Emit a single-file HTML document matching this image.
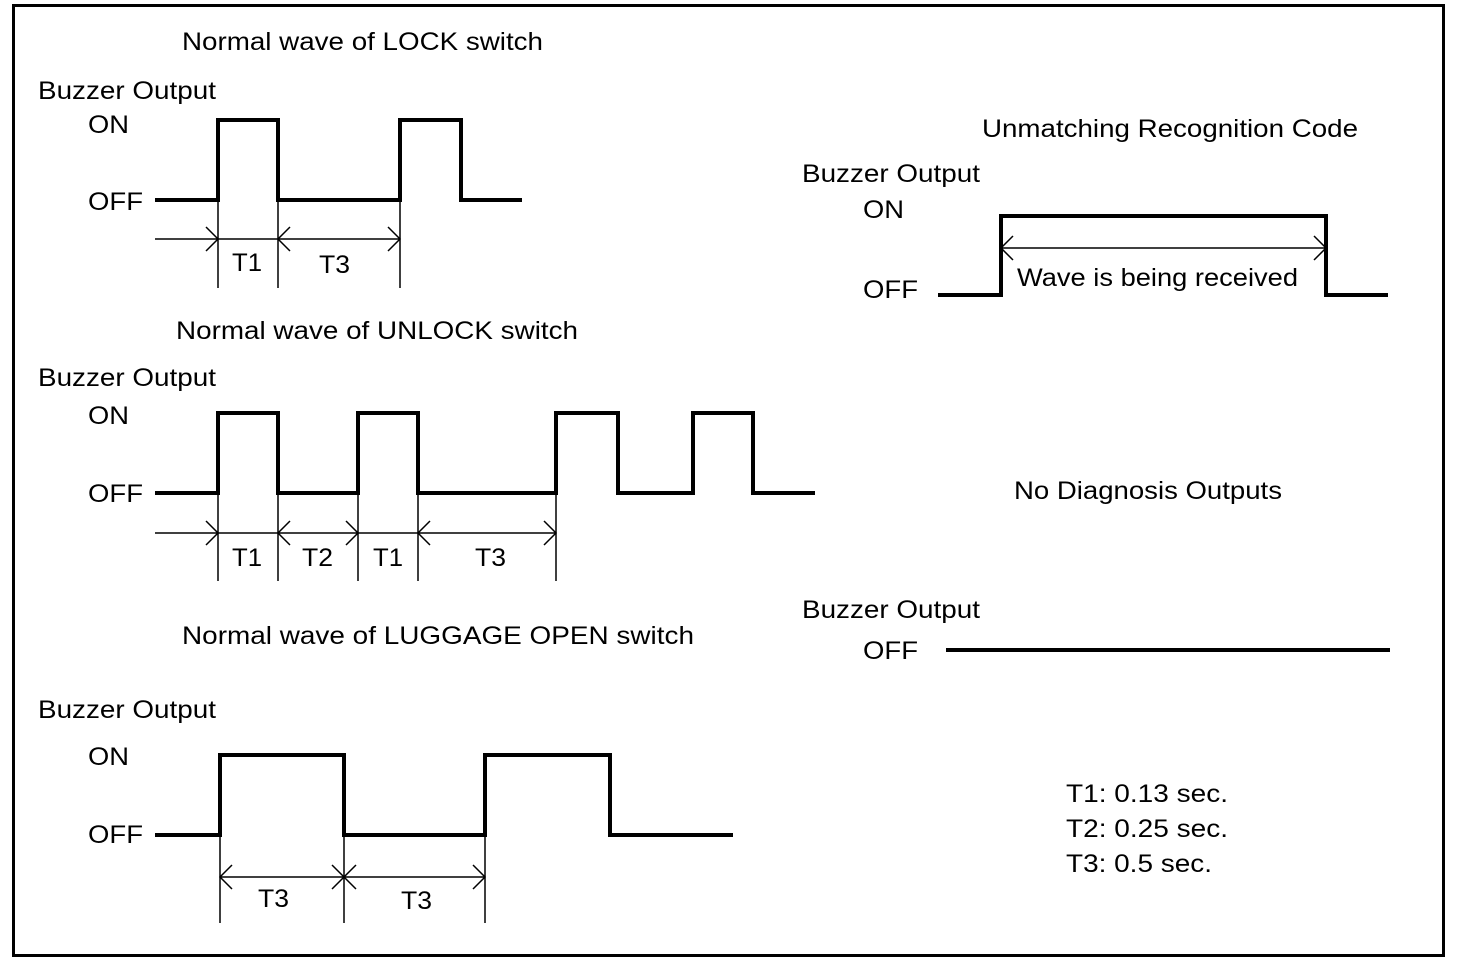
<!DOCTYPE html>
<html><head><meta charset="utf-8"><style>
html,body{margin:0;padding:0;background:#fff;}
svg{display:block;}
text{font-family:"Liberation Sans",Arial,sans-serif;font-size:25px;fill:#000;}
</style></head><body>
<svg width="1472" height="980" viewBox="0 0 1472 980" xmlns="http://www.w3.org/2000/svg">
<rect x="13.5" y="5.5" width="1430" height="950" fill="none" stroke="#000" stroke-width="3"/>
<g fill="none" stroke="#000">
<polyline stroke-width="4" points="155,200 218,200 218,120 278,120 278,200 400,200 400,120 461,120 461,200 522,200"/>
<g stroke-width="1.5">
<line x1="155" y1="239" x2="400" y2="239"/>
<line x1="218" y1="200" x2="218" y2="288"/>
<line x1="278" y1="200" x2="278" y2="288"/>
<line x1="400" y1="200" x2="400" y2="288"/>
<polyline points="206,227 218,239 206,251"/>
<polyline points="290,227 278,239 290,251"/>
<polyline points="388,227 400,239 388,251"/>
</g>
<polyline stroke-width="4" points="155,493 218,493 218,413 278,413 278,493 358,493 358,413 418,413 418,493 556,493 556,413 618,413 618,493 693,493 693,413 753,413 753,493 815,493"/>
<g stroke-width="1.5">
<line x1="155" y1="533" x2="556" y2="533"/>
<line x1="218" y1="493" x2="218" y2="581"/>
<line x1="278" y1="493" x2="278" y2="581"/>
<line x1="358" y1="493" x2="358" y2="581"/>
<line x1="418" y1="493" x2="418" y2="581"/>
<line x1="556" y1="493" x2="556" y2="581"/>
<polyline points="206,521 218,533 206,545"/>
<polyline points="290,521 278,533 290,545"/>
<polyline points="346,521 358,533 346,545"/>
<polyline points="430,521 418,533 430,545"/>
<polyline points="544,521 556,533 544,545"/>
</g>
<polyline stroke-width="4" points="155,835 220,835 220,755 344,755 344,835 485,835 485,755 610,755 610,835 733,835"/>
<g stroke-width="1.5">
<line x1="220" y1="877" x2="485" y2="877"/>
<line x1="220" y1="835" x2="220" y2="923"/>
<line x1="344" y1="835" x2="344" y2="923"/>
<line x1="485" y1="835" x2="485" y2="923"/>
<polyline points="232,865 220,877 232,889"/>
<polyline points="332,865 344,877 332,889"/>
<polyline points="356,865 344,877 356,889"/>
<polyline points="473,865 485,877 473,889"/>
</g>
<polyline stroke-width="4" points="938,295 1001,295 1001,216 1326,216 1326,295 1388,295"/>
<g stroke-width="1.5">
<line x1="1001" y1="248" x2="1326" y2="248"/>
<polyline points="1013,236 1001,248 1013,260"/>
<polyline points="1314,236 1326,248 1314,260"/>
</g>
<line stroke-width="4" x1="946" y1="650" x2="1390" y2="650"/>
</g>
<g>
<text x="182" y="50" textLength="361" lengthAdjust="spacingAndGlyphs">Normal wave of LOCK switch</text>
<text x="38" y="99" textLength="178" lengthAdjust="spacingAndGlyphs">Buzzer Output</text>
<text x="88" y="133" textLength="41" lengthAdjust="spacingAndGlyphs">ON</text>
<text x="88" y="210" textLength="55" lengthAdjust="spacingAndGlyphs">OFF</text>
<text x="232" y="271" textLength="30" lengthAdjust="spacingAndGlyphs">T1</text>
<text x="319" y="273" textLength="31" lengthAdjust="spacingAndGlyphs">T3</text>

<text x="176" y="339" textLength="402" lengthAdjust="spacingAndGlyphs">Normal wave of UNLOCK switch</text>
<text x="38" y="386" textLength="178" lengthAdjust="spacingAndGlyphs">Buzzer Output</text>
<text x="88" y="424" textLength="41" lengthAdjust="spacingAndGlyphs">ON</text>
<text x="88" y="502" textLength="55" lengthAdjust="spacingAndGlyphs">OFF</text>
<text x="232" y="566" textLength="30" lengthAdjust="spacingAndGlyphs">T1</text>
<text x="302" y="566" textLength="31" lengthAdjust="spacingAndGlyphs">T2</text>
<text x="373" y="566" textLength="30" lengthAdjust="spacingAndGlyphs">T1</text>
<text x="475" y="566" textLength="31" lengthAdjust="spacingAndGlyphs">T3</text>

<text x="182" y="644" textLength="512" lengthAdjust="spacingAndGlyphs">Normal wave of LUGGAGE OPEN switch</text>
<text x="38" y="718" textLength="178" lengthAdjust="spacingAndGlyphs">Buzzer Output</text>
<text x="88" y="765" textLength="41" lengthAdjust="spacingAndGlyphs">ON</text>
<text x="88" y="843" textLength="55" lengthAdjust="spacingAndGlyphs">OFF</text>
<text x="258" y="907" textLength="31" lengthAdjust="spacingAndGlyphs">T3</text>
<text x="401" y="909" textLength="31" lengthAdjust="spacingAndGlyphs">T3</text>

<text x="982" y="137" textLength="376" lengthAdjust="spacingAndGlyphs">Unmatching Recognition Code</text>
<text x="802" y="182" textLength="178" lengthAdjust="spacingAndGlyphs">Buzzer Output</text>
<text x="863" y="218" textLength="41" lengthAdjust="spacingAndGlyphs">ON</text>
<text x="863" y="298" textLength="55" lengthAdjust="spacingAndGlyphs">OFF</text>
<text x="1017" y="286" textLength="281" lengthAdjust="spacingAndGlyphs">Wave is being received</text>

<text x="1014" y="499" textLength="268" lengthAdjust="spacingAndGlyphs">No Diagnosis Outputs</text>
<text x="802" y="618" textLength="178" lengthAdjust="spacingAndGlyphs">Buzzer Output</text>
<text x="863" y="659" textLength="55" lengthAdjust="spacingAndGlyphs">OFF</text>

<text x="1066" y="802" textLength="162" lengthAdjust="spacingAndGlyphs">T1: 0.13 sec.</text>
<text x="1066" y="837" textLength="162" lengthAdjust="spacingAndGlyphs">T2: 0.25 sec.</text>
<text x="1066" y="872" textLength="146" lengthAdjust="spacingAndGlyphs">T3: 0.5 sec.</text>
</g>
</svg>
</body></html>
